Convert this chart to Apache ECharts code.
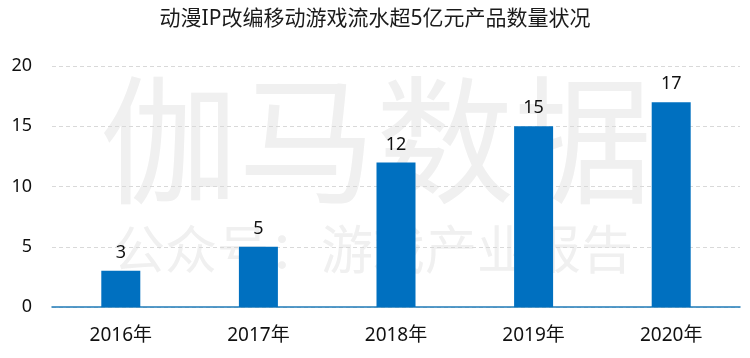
<!DOCTYPE html>
<html><head><meta charset="utf-8">
<script src="https://cdn.jsdelivr.net/npm/echarts@6/dist/echarts.min.js"></script>
<style>html,body{margin:0;padding:0;background:#fff}#c{width:750px;height:358px}</style>
</head><body><div id="c"></div>
<script>
const titleText = '动漫IP改编移动游戏流水超5亿元产品数量状况';
const categories = ['2016年','2017年','2018年','2019年','2020年'];
const values = [3,5,12,15,17];
const yTicks = [0,5,10,15,20];
const FONT = "'Noto Sans','Noto Sans CJK SC',sans-serif";
const chart = echarts.init(document.getElementById('c'));
chart.setOption({
  animation:false,
  title:{text:titleText,left:'center',top:4,textStyle:{fontFamily:FONT,fontSize:21,fontWeight:'normal',color:'#1a1a1a'}},
  graphic:[
    {type:'text',left:100,top:84,z:-1,style:{text:'伽马数据',fontFamily:FONT,fontSize:138,fill:'#f0f0f0',letterSpacing:4}},
    {type:'text',left:113,top:228,z:-1,style:{text:'公众号：游戏产业报告',fontFamily:FONT,fontSize:52,fill:'#f0f0f0',letterSpacing:2}}
  ],
  grid:{left:52,right:10,top:66,bottom:51},
  xAxis:{type:'category',data:categories,axisTick:{show:false},
    axisLine:{lineStyle:{color:'#1F7BB8',width:1.5}},
    axisLabel:{fontFamily:FONT,fontSize:19,color:'#111',margin:19}},
  yAxis:{type:'value',min:yTicks[0],max:yTicks[yTicks.length-1],interval:5,
    axisLine:{show:false},axisTick:{show:false},
    axisLabel:{fontFamily:FONT,fontSize:18,color:'#111',margin:20},
    splitLine:{lineStyle:{color:'#d9d9d9',type:[4,3]}}},
  series:[{type:'bar',data:values,barWidth:39,itemStyle:{color:'#0070C0'},
    label:{show:true,position:'top',distance:9,fontFamily:FONT,fontSize:18,color:'#111'}}]
});
</script></body></html>
